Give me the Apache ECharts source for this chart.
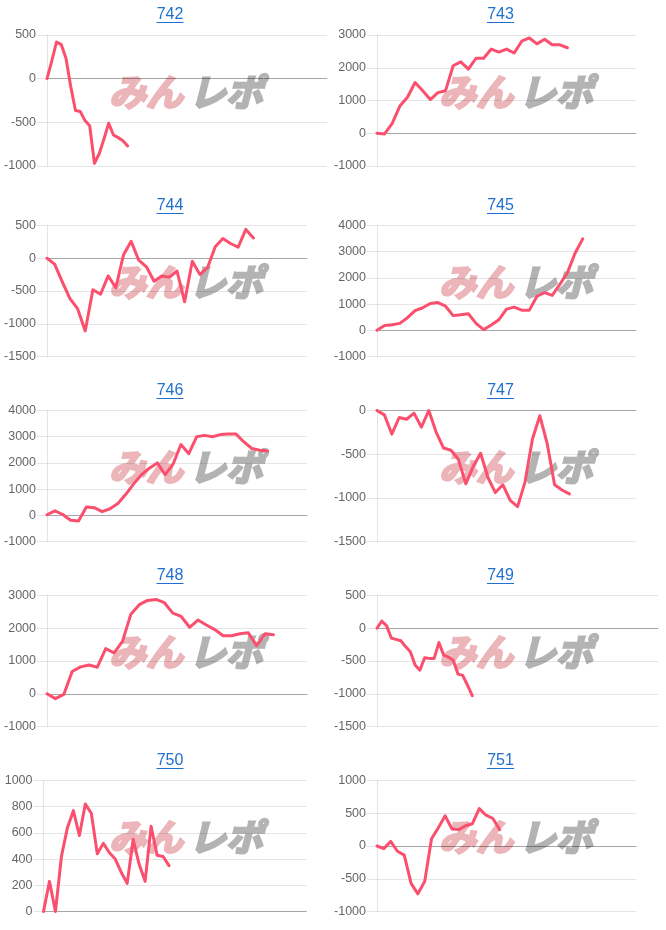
<!DOCTYPE html>
<html><head><meta charset="utf-8">
<script src="https://cdn.jsdelivr.net/npm/echarts@6/dist/echarts.min.js"></script>
<style>html,body{margin:0;padding:0;background:#fff}#c{width:666px;height:930px}</style>
</head><body><div id="c"></div>
<script>
// ---- data ----
const titles = ['742','743','744','745','746','747','748','749','750','751'];
const s742 = [0,200,420,390,235,-90,-365,-375,-480,-540,-970,-860,-690,-510,-645,-675,-710,-770];
const s743 = [0,-20,300,830,1100,1550,1300,1030,1240,1300,2060,2180,1960,2290,2290,2570,2480,2570,2450,2810,2910,2730,2870,2700,2700,2610];
const s744 = [0,-90,-360,-615,-770,-1110,-480,-550,-270,-450,50,260,-30,-130,-350,-270,-290,-195,-665,-45,-250,-140,175,300,225,170,440,310];
const s745 = [0,180,215,265,480,750,860,1025,1060,920,560,595,630,265,25,200,405,810,885,770,770,1300,1440,1330,1750,2200,2940,3490];
const s746 = [20,170,30,-190,-215,320,290,140,250,450,800,1200,1550,1800,2000,1550,1950,2700,2350,3000,3050,3000,3080,3100,3100,2800,2550,2480,2450];
const s747 = [0,-50,-270,-80,-100,-30,-190,0,-250,-430,-455,-560,-840,-640,-490,-770,-940,-850,-1030,-1100,-820,-330,-60,-380,-850,-910,-955];
const s748 = [0,-150,-20,680,820,880,810,1380,1250,1600,2430,2720,2850,2880,2780,2460,2360,2030,2250,2100,1960,1770,1770,1830,1860,1470,1830,1800];
const s749 = [0,110,40,-150,-170,-190,-280,-360,-560,-640,-450,-460,-460,-220,-410,-440,-490,-700,-720,-870,-1030];
const s750 = [0,230,0,420,640,770,580,820,750,440,520,450,400,300,215,550,360,230,650,430,420,350];
const s751 = [0,-40,70,-80,-140,-570,-730,-540,110,280,460,260,250,310,340,570,470,420,250];
const slotCounts = [60,35,35,35,34,36,32,60,45,39];
const yMin  = [-1000,-1000,-1500,-1000,-1000,-1500,-1000,-1500,0,-1000];
const yMax  = [500,3000,500,4000,4000,0,3000,500,1000,1000];
const yStep = [500,1000,500,1000,1000,500,1000,500,200,500];
const seriesData = [s742,s743,s744,s745,s746,s747,s748,s749,s750,s751];

// ---- layout ----
const rowTop = [-5.5,185,370,555,740];
const gridBox = [
  {left:47, width:280},{left:377, width:259},
  {left:47, width:260},{left:377, width:259},
  {left:47, width:260},{left:377, width:259},
  {left:47, width:260},{left:377, width:281},
  {left:43.5, width:263},{left:377, width:259}
];
const LINE = '#fb4f6e';
const BLUE = '#1f6fce';
const chart = echarts.init(document.getElementById('c'), null, {renderer:'canvas'});

const grids=[], xAxes=[], yAxes=[], series=[], graphics=[];
titles.forEach((t,i)=>{
  const row = Math.floor(i/2), col = i%2;
  const top = rowTop[row];
  grids.push({left:gridBox[i].left, top: top+40.5, width:gridBox[i].width, height:131, containLabel:false});
  const cats = Array.from({length:slotCounts[i]},(_,k)=>String(k+1));
  xAxes.push({type:'category', gridIndex:i, data:cats, boundaryGap:false,
    axisLabel:{show:false}, axisTick:{show:false}, splitLine:{show:false},
    axisLine:{show:true, onZero:true, lineStyle:{color:'rgba(0,0,0,0.28)', width:1}}});
  yAxes.push({type:'value', gridIndex:i, min:yMin[i], max:yMax[i], interval:yStep[i],
    axisLine:{show:true, lineStyle:{color:'rgba(0,0,0,0.1)'}},
    axisTick:{show:true, length:10, lineStyle:{color:'rgba(0,0,0,0.1)'}},
    splitLine:{show:true, lineStyle:{color:'rgba(0,0,0,0.1)'}},
    axisLabel:{color:'#666', fontSize:12.5, fontFamily:'"Liberation Sans", Arial, sans-serif', margin:11,
      formatter:(v)=>String(v)}});
  series.push({type:'line', xAxisIndex:i, yAxisIndex:i, data:seriesData[i], showSymbol:false, symbol:'none',
    lineStyle:{color:LINE, width:3, join:'round', cap:'round'}, itemStyle:{color:LINE}, animation:false, z:3});
  const cx = col===0 ? 170 : 500.5;
  const ty = row===0 ? 15 : top+21;
  graphics.push({type:'text', x:cx, y:ty, z:10, style:{text:t, fill:BLUE, font:'16px "Liberation Sans", Arial, sans-serif', textAlign:'center', textVerticalAlign:'middle'}});
  graphics.push({type:'line', z:10, shape:{x1:cx-13.5, y1:ty+7.5, x2:cx+13.5, y2:ty+7.5}, style:{stroke:BLUE, lineWidth:1}});
  const wx = col===0 ? 0 : 330;
  const wy = top + 97;
  graphics.push({type:'text', x:146+wx, y:wy, z:-1, style:{text:'みん', fill:'#ebb5b9', stroke:'#ebb5b9', lineWidth:2.5, font:'italic bold 37px "Noto Sans CJK JP", sans-serif', textAlign:'center', textVerticalAlign:'middle'}});
  graphics.push({type:'text', x:226+wx, y:wy, z:-1, style:{text:'レポ', fill:'#b3b3b3', stroke:'#b3b3b3', lineWidth:2.5, font:'italic bold 37px "Noto Sans CJK JP", sans-serif', textAlign:'center', textVerticalAlign:'middle'}});
});

chart.setOption({animation:false, grid:grids, xAxis:xAxes, yAxis:yAxes, series:series, graphic:graphics});
</script></body></html>
